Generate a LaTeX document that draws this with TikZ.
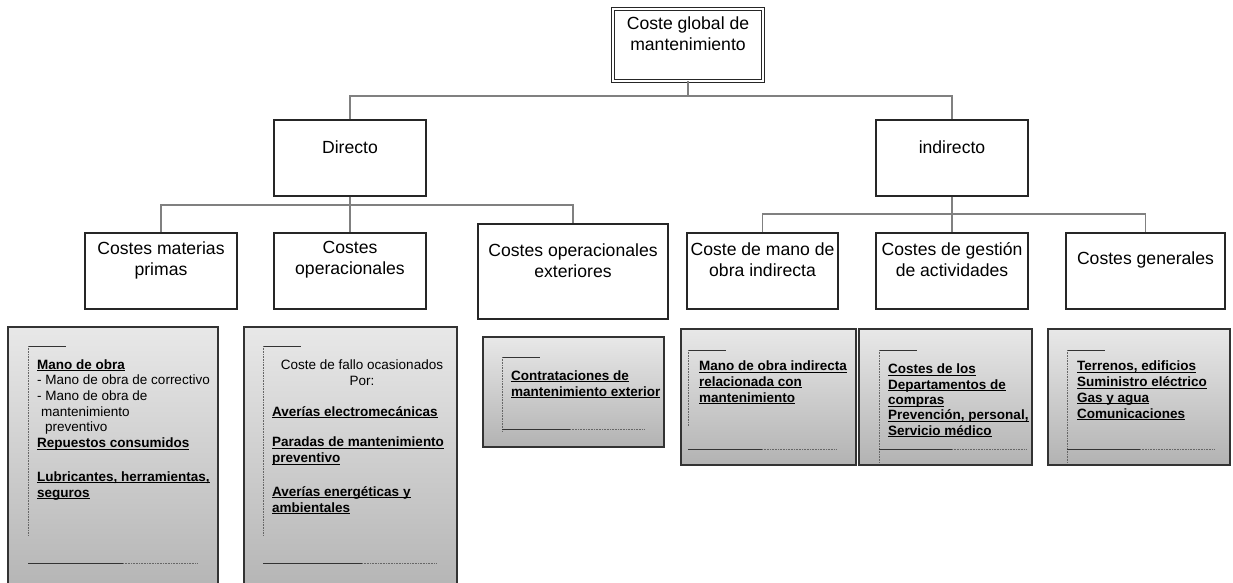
\documentclass[tikz,border=0pt]{standalone}
\usepackage{fontspec}
\setmainfont{Liberation Sans}
\usetikzlibrary{positioning}

% bold text with a flat underline just below the baseline
\newsavebox{\ulbox}
\newcommand{\bu}[1]{\sbox{\ulbox}{\bfseries #1}\rlap{\rule[-2pt]{\wd\ulbox}{0.9pt}}\usebox{\ulbox}}

\tikzset{
  costbox/.style={draw=black!85, line width=1.1pt, fill=white, inner sep=0pt, minimum width=152pt, minimum height=76pt},
  costtext/.style={align=center, inner sep=0pt, font=\fontsize{17.6}{21}\selectfont},
  link/.style={draw=black!50, line width=1.3pt},
  itembox/.style={draw=black!80, line width=1.4pt, top color=black!9, bottom color=black!30},
  itemtext/.style={align=left, inner sep=0pt, anchor=base west, font=\fontsize{13.5}{15.7}\selectfont},
  dots/.style={draw=black!60, line width=0.8pt, dash pattern=on 0.8pt off 0.8pt},
}

\begin{document}
\begin{tikzpicture}[x=1pt, y=-1pt]
\clip (0,0) rectangle (1233,582);

% top
\node[costbox, double, double distance=1.8pt, line width=0.9pt, minimum width=150pt, minimum height=72pt] (glob) at (688,45) {};
\node[costtext] (glob-t) at ([yshift=11pt]glob.center) {Coste global de\\mantenimiento};

% direct / indirect
\node[costbox] (dir) at (350,158) {};
\node[costtext] (dir-t) at ([yshift=11pt]dir.center) {Directo};
\node[costbox] (ind) at (952,158) {};
\node[costtext] (ind-t) at ([yshift=11pt]ind.center) {indirecto};

% third row
\node[costbox] (mat) at (161,271) {};
\node[costtext] (mat-t) at ([yshift=11pt]mat.center) {Costes materias\\primas};
\node[costbox] (opr) at (350,271) {};
\node[costtext] (opr-t) at ([yshift=11pt]opr.center) {Costes\\operacionales};
\node[costbox, minimum width=190pt, minimum height=95pt] (ext) at (573,271.5) {};
\node[costtext] (ext-t) at ([yshift=11pt]ext.center) {Costes operacionales\\exteriores};
\node[costbox, minimum width=151pt] (moi) at (762.5,271) {};
\node[costtext] (moi-t) at ([yshift=11pt]moi.center) {Coste de mano de\\obra indirecta};
\node[costbox] (ges) at (952,271) {};
\node[costtext] (ges-t) at ([yshift=11pt]ges.center) {Costes de gestión\\de actividades};
\node[costbox, minimum width=159pt] (gen) at (1145.5,271) {};
\node[costtext] (gen-t) at ([yshift=11pt]gen.center) {Costes generales};

% connectors
\coordinate (top-bus) at (688,96);
\coordinate (dir-bus) at (350,205);
\coordinate (ind-bus) at (952,214);
\draw[link] (glob.south) -- (top-bus);
\draw[link] (dir.north) |- (top-bus) -| (ind.north);
\draw[link] (dir.south) -- (opr.north);
\draw[link] (mat.north) |- (dir-bus) -| (ext.north);
\draw[link] (ind.south) -- (ges.north);
\draw[link] (moi.north) |- (ind-bus) -| (gen.north);

% grey detail boxes
\draw[itembox] (8,327) rectangle (218,600);
\draw[itembox] (244,327) rectangle (457,600);
\draw[itembox] (483,337) rectangle (664,447);
\draw[itembox] (681,329) rectangle (856,465);
\draw[itembox] (859,329) rectangle (1032,465);
\draw[itembox] (1048,329) rectangle (1230,465);

% brackets inside the grey boxes
\foreach \x/\yt/\yv/\yb/\xs/\xe in {28/346/536/563/123/198, 263/346/536/563/362/437,
    502/357/432/429/570/645, 688/350/426/449/762/837,
    879/350/463/449/952/1027, 1067/350/463/449/1140/1215} {
  \draw[black!80, line width=0.8pt] (\x,\yt) -- ++(38,0);
  \draw[dots] (\x,\yt) -- (\x,\yv);
  \draw[black!80, line width=0.9pt] (\x,\yb) -- (\xs,\yb);
  \draw[dots] (\xs,\yb) -- (\xe,\yb);
}

% texts of the grey boxes (placed at the baseline of their last line)
\node[itemtext] (mat-i) at (37,497) {\bu{Mano de obra}\\- Mano de obra de correctivo\\- Mano de obra de\\\hspace{4pt}mantenimiento\\\hspace{8pt}preventivo\\\bu{Repuestos consumidos}\\[18pt]\bu{Lubricantes, herramientas,}\\\bu{seguros}};
\node[itemtext, align=center, anchor=base] (opr-h) at (362,385) {Coste de fallo ocasionados\\Por:};
\node[itemtext] (opr-i) at (272,512) {\bu{Averías electromecánicas}\\[15pt]\bu{Paradas de mantenimiento}\\\bu{preventivo}\\[18pt]\bu{Averías energéticas y}\\\bu{ambientales}};
\node[itemtext] (ext-i) at (511,396) {\bu{Contrataciones de}\\\bu{mantenimiento exterior}};
\node[itemtext] (moi-i) at (699,402) {\bu{Mano de obra indirecta}\\\bu{relacionada con}\\\bu{mantenimiento}};
\node[itemtext, font=\fontsize{13.5}{15.3}\selectfont] (ges-i) at (888,435) {\bu{Costes de los}\\\bu{Departamentos de}\\\bu{compras}\\\bu{Prevención, personal,}\\\bu{Servicio médico}};
\node[itemtext] (gen-i) at (1077,418) {\bu{Terrenos, edificios}\\\bu{Suministro eléctrico}\\\bu{Gas y agua}\\\bu{Comunicaciones}};
\end{tikzpicture}
\end{document}
